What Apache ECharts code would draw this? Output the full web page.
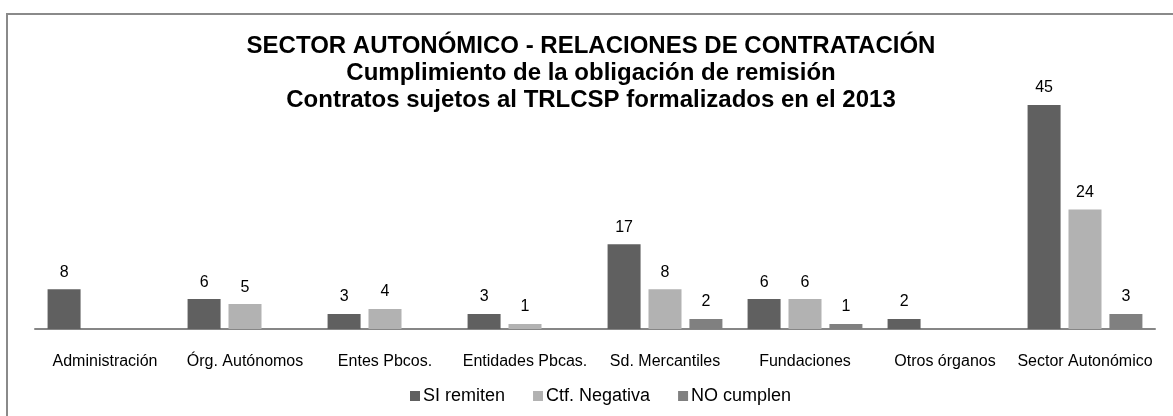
<!DOCTYPE html>
<html>
<head>
<meta charset="utf-8">
<script src="https://cdn.jsdelivr.net/npm/echarts@6/dist/echarts.min.js"></script>
<style>
  html, body { margin: 0; padding: 0; background: #fff; }
  #chart { width: 1173px; height: 416px; }
</style>
</head>
<body>
<div id="chart"></div>
<script>
// categorías y valores
const categorias = ['Administración', 'Órg. Autónomos', 'Entes Pbcos.', 'Entidades Pbcas.',
  'Sd. Mercantiles', 'Fundaciones', 'Otros órganos', 'Sector Autonómico'];
const siRemiten = [8, 6, 3, 3, 17, 6, 2, 45];
const ctfNegativa = [0, 5, 4, 1, 8, 6, 0, 24];
const noCumplen = [0, 0, 0, 0, 2, 1, 0, 3];

const fuente = 'Liberation Sans, Arial, sans-serif';

const etiqueta = {
  show: true,
  position: 'top',
  distance: 9,
  color: '#000',
  fontFamily: fuente,
  fontSize: 16,
  formatter: p => (p.value > 0 ? p.value : '')
};

function serie(nombre, datos, color) {
  return {
    name: nombre,
    type: 'bar',
    data: datos,
    barWidth: 33,
    barGap: '24%',
    itemStyle: { color: color },
    label: etiqueta,
    emphasis: { disabled: true }
  };
}

let myChart = echarts.init(document.getElementById('chart'));
let option = {
  animation: false,
  backgroundColor: '#fff',
  title: {
    text: '{a|SECTOR AUTONÓMICO - RELACIONES DE CONTRATACIÓN}\n{a|Cumplimiento de la obligación de remisión}\n{a|Contratos sujetos al TRLCSP formalizados en el 2013}',
    left: 591,
    top: 33,
    padding: 0,
    textAlign: 'center',
    textStyle: {
      rich: {
        a: { fontFamily: fuente, fontWeight: 'bold', fontSize: 24, color: '#000', lineHeight: 27, align: 'center' }
      }
    }
  },
  graphic: [{
    type: 'rect',
    shape: { x: 7, y: 14, width: 1200, height: 500 },
    style: { fill: 'none', stroke: '#8a8a8a', lineWidth: 2 },
    silent: true
  }],
  legend: {
    top: 382,
    left: 405,
    itemWidth: 10,
    itemHeight: 10,
    itemGap: 28,
    icon: 'rect',
    textStyle: { fontFamily: fuente, fontSize: 18, color: '#000', padding: [0, 0, 0, -2] },
    data: ['SI remiten', 'Ctf. Negativa', 'NO cumplen']
  },
  grid: { left: 35, right: 18, top: 80, bottom: 87 },
  xAxis: {
    type: 'category',
    data: categorias,
    axisLine: { lineStyle: { color: '#868686', width: 2 } },
    axisTick: { show: false },
    axisLabel: { color: '#000', fontFamily: fuente, fontSize: 16, margin: 25, interval: 0 }
  },
  yAxis: {
    type: 'value',
    min: 0,
    max: 50,
    show: false,
    splitLine: { show: false }
  },
  series: [
    serie('SI remiten', siRemiten, '#606060'),
    serie('Ctf. Negativa', ctfNegativa, '#b2b2b2'),
    serie('NO cumplen', noCumplen, '#808080')
  ]
};
myChart.setOption(option, true);
window.addEventListener('resize', () => {
  myChart.resize();
});
</script>
</body>
</html>
